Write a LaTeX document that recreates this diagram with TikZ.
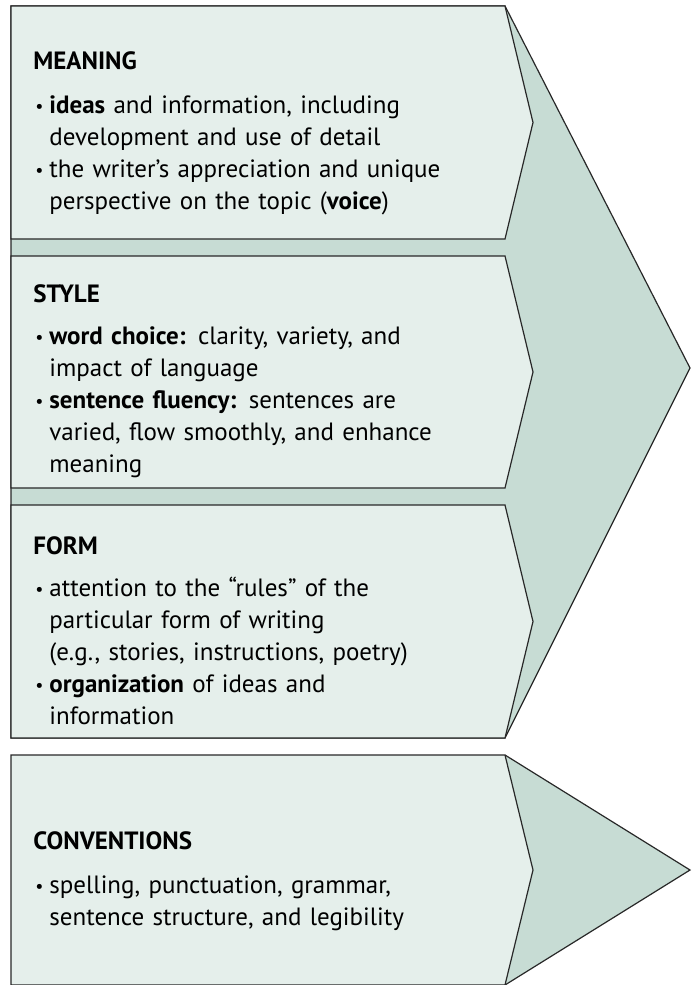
\documentclass[tikz,border=0pt]{standalone}
\usepackage{fontspec}
\setmainfont{PT Sans}
\usepackage{tikz}
\usetikzlibrary{positioning}
\definecolor{panelfill}{RGB}{229, 239, 235}
\definecolor{arrowfill}{RGB}{199, 220, 212}
\definecolor{edgegray}{RGB}{40, 40, 40}
\newcommand{\bul}{\makebox[8pt][l]{\hspace{1pt}\raisebox{0.5pt}{\small •}}}
\newcommand{\ind}{\hspace*{8pt}}

\begin{document}
\begin{tikzpicture}[
  x=0.5pt, y=-0.5pt,
  panel/.style={fill=panelfill, draw=edgegray, line width=0.6pt},
  bigarrow/.style={fill=arrowfill, draw=edgegray, line width=0.6pt},
  blurb/.style={
    anchor=west, inner sep=0pt, align=left,
    text width=230pt, font=\fontsize{12.5}{16}\selectfont
  }
]
  \useasboundingbox (0,0) rectangle (691,985);

  % Arrows behind the panels
  \draw[bigarrow] (11,6) -- (505,6) -- (690,368) -- (505,738) -- (11,738) -- cycle;
  \draw[bigarrow] (505,755) -- (690,870) -- (505,985);

  % Panels
  \foreach \t/\b in {6/239, 256/488, 505/738, 755/985}
    \draw[panel] (11,\t) -- (505,\t) -- (533,{(\t+\b)/2}) -- (505,\b) -- (11,\b) -- cycle;

  % Panel texts
  \node[blurb] (meaning) at (33,133) {\textbf{MEANING}\\[6pt]
    \bul\textbf{ideas} and information, including\\
    \ind development and use of detail\\
    \bul the writer’s appreciation and unique\\
    \ind perspective on the topic (\textbf{voice})};
  \node[blurb] (style) at (33,381) {\textbf{STYLE}\\[5pt]
    \bul\textbf{word choice:} clarity, variety, and\\
    \ind impact of language\\
    \bul\textbf{sentence fluency:} sentences are\\
    \ind varied, flow smoothly, and enhance\\
    \ind meaning};
  \node[blurb] (form) at (33,631) {\textbf{FORM}\\[5pt]
    \bul attention to the “rules” of the\\
    \ind particular form of writing\\
    \ind (e.g., stories, instructions, poetry)\\
    \bul\textbf{organization} of ideas and\\
    \ind information};
  \node[blurb] (conv) at (33,881) {\textbf{CONVENTIONS}\\[6pt]
    \bul spelling, punctuation, grammar,\\
    \ind sentence structure, and legibility};
\end{tikzpicture}
\end{document}
